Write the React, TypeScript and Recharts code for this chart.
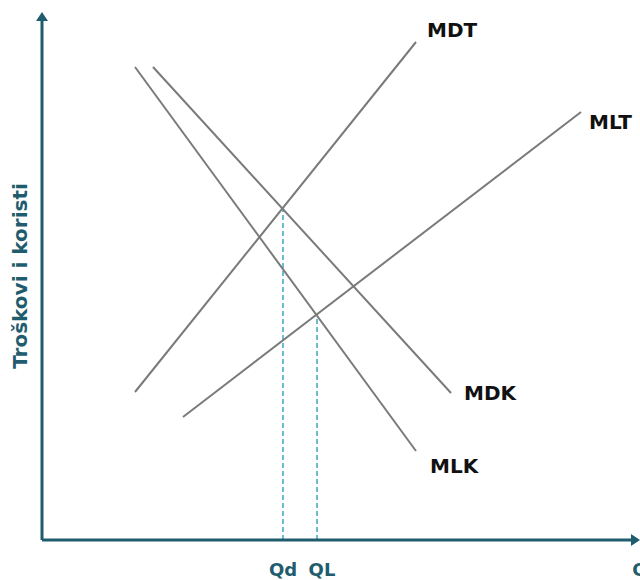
import React from 'react';
import { ComposedChart, Line, XAxis, YAxis, ReferenceLine } from 'recharts';

// curves (x = quantity, y = cost/benefit), two end points each
const mdt = [{ x: 93, y: 148 }, { x: 374, y: 498 }];
const mlt = [{ x: 141, y: 123 }, { x: 539, y: 428 }];
const mdk = [{ x: 111, y: 473 }, { x: 409, y: 147 }];
const mlk = [{ x: 93, y: 473 }, { x: 374, y: 89 }];

// equilibrium quantities and heights of the crossings
const qd = [{ x: 241, y: 0 }, { x: 241, y: 332 }];
const ql = [{ x: 275, y: 0 }, { x: 275, y: 226 }];

const tickValues = [241, 275, 594];
const tickLabels = ['Qd', 'QL', 'Q'];

const AXIS = '#1f5c6e';
const CURVE = '#7a7a7a';
const DASH = '#5fb3cf';
const FONT = 'DejaVu Sans, sans-serif';

const endLabel = (text: string, dx: number, dy: number) => (props: any) => {
  if (props.index !== 1) return null;
  return (
    <text x={props.x + dx} y={props.y + dy} fill="#111" fontFamily={FONT} fontWeight="bold" fontSize={20} dominantBaseline="central">
      {text}
    </text>
  );
};

const XTick = (props: any) => {
  const { x, payload } = props;
  const i = tickValues.indexOf(payload.value);
  const dx = i === 1 ? 5 : i === 2 ? 4 : 0;
  return (
    <text x={x + dx} y={569} textAnchor="middle" dominantBaseline="central" fill={AXIS} fontFamily={FONT} fontWeight="bold" fontSize={18}>
      {tickLabels[i]}
    </text>
  );
};

const YTitle = (props: any) => {
  const vb = props.viewBox;
  const cx = 20;
  const cy = vb.y + vb.height / 2;
  return (
    <text x={cx} y={cy} transform={`rotate(-90 ${cx} ${cy})`} textAnchor="middle" dominantBaseline="central" fill={AXIS} fontFamily={FONT} fontWeight="bold" fontSize={20}>
      Troškovi i koristi
    </text>
  );
};

const AxisArrow = (dir: 'up' | 'right') => (props: any) => {
  const { x1, y1, x2, y2 } = props;
  const head = dir === 'up'
    ? `M${x2 - 6},${y2 + 9} L${x2},${y2} L${x2 + 6},${y2 + 9} Z`
    : `M${x2 - 9},${y2 - 6} L${x2},${y2} L${x2 - 9},${y2 + 6} Z`;
  return (
    <g>
      <line x1={x1} y1={y1} x2={dir === 'up' ? x2 : x2 - 4} y2={dir === 'up' ? y2 + 4 : y2} stroke={AXIS} strokeWidth={3} />
      <path d={head} fill={AXIS} />
    </g>
  );
};

export default function App() {
  return (
    <div style={{ position: 'absolute', left: 0, top: 0, background: '#fff' }}>
      <ComposedChart width={640} height={580} margin={{ top: 12, right: 0, bottom: 0, left: 0 }}>
        <XAxis
          type="number"
          dataKey="x"
          domain={[0, 598]}
          allowDataOverflow
          ticks={tickValues}
          tick={<XTick />}
          tickLine={false}
          axisLine={false}
          height={40}
          interval={0}
        />
        <YAxis
          type="number"
          dataKey="y"
          domain={[0, 528]}
          allowDataOverflow
          width={42}
          tick={false}
          tickLine={false}
          axisLine={false}
          label={<YTitle />}
        />
        <Line data={qd} dataKey="y" stroke={DASH} strokeWidth={1.8} strokeDasharray="5 3" dot={false} isAnimationActive={false} />
        <Line data={ql} dataKey="y" stroke={DASH} strokeWidth={1.8} strokeDasharray="5 3" dot={false} isAnimationActive={false} />
        <Line data={mdt} dataKey="y" stroke={CURVE} strokeWidth={2} dot={false} isAnimationActive={false} label={endLabel('MDT', 11, -12)} />
        <Line data={mlt} dataKey="y" stroke={CURVE} strokeWidth={2} dot={false} isAnimationActive={false} label={endLabel('MLT', 8, 10)} />
        <Line data={mdk} dataKey="y" stroke={CURVE} strokeWidth={2} dot={false} isAnimationActive={false} label={endLabel('MDK', 13, 0)} />
        <Line data={mlk} dataKey="y" stroke={CURVE} strokeWidth={2} dot={false} isAnimationActive={false} label={endLabel('MLK', 14, 15)} />
        <ReferenceLine segment={[{ x: 0, y: 0 }, { x: 0, y: 528 }]} ifOverflow="visible" shape={AxisArrow('up')} />
        <ReferenceLine segment={[{ x: 0, y: 0 }, { x: 598, y: 0 }]} ifOverflow="visible" shape={AxisArrow('right')} />
      </ComposedChart>
    </div>
  );
}
